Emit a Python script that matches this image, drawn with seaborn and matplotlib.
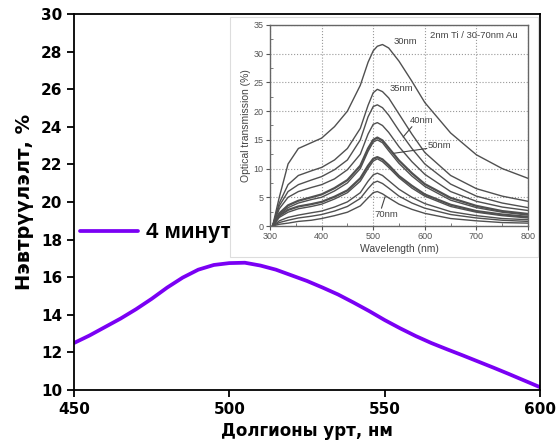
import matplotlib
matplotlib.use("Agg")
import matplotlib.pyplot as plt
import seaborn as sns
import pandas as pd
from matplotlib.patches import Rectangle

# ---- main chart data ----
wavelength = [450, 455, 460, 465, 470, 475, 480, 485, 490, 495, 500, 505, 510, 515, 520, 525,
              530, 535, 540, 545, 550, 555, 560, 565, 570, 575, 580, 585, 590, 595, 600]
transmission = [12.5, 12.9, 13.35, 13.8, 14.3, 14.85, 15.45, 15.98, 16.4, 16.65, 16.75, 16.77,
                16.62, 16.4, 16.1, 15.8, 15.45, 15.08, 14.65, 14.2, 13.72, 13.28, 12.87, 12.5,
                12.17, 11.85, 11.52, 11.19, 10.85, 10.5, 10.15]
series_label = "4 минут"
x_ticks = [450, 500, 550, 600]
y_ticks = [10, 12, 14, 16, 18, 20, 22, 24, 26, 28, 30]

# ---- inset chart data (reference figure) ----
inset_wl = [305, 318, 335, 355, 380, 400, 425, 450, 475, 490, 500, 508, 518, 530, 550, 575, 600, 650, 700, 750, 800]
c30 = [0, 5.0, 10.8, 13.5, 14.5, 15.3, 17.3, 20.0, 24.5, 28.5, 30.5, 31.3, 31.6, 31.0, 28.7, 25.2, 21.5, 16.2, 12.4, 10.0, 8.3]
c35 = [0, 4.0, 7.2, 8.8, 9.6, 10.2, 11.5, 13.5, 17.0, 21.0, 23.2, 23.8, 23.4, 22.3, 19.5, 16.0, 12.8, 8.8, 6.5, 5.2, 4.3]
c40 = [0, 3.5, 6.0, 7.2, 8.0, 8.6, 9.8, 11.5, 15.0, 19.0, 20.8, 21.1, 20.6, 19.3, 16.6, 13.5, 10.8, 7.3, 5.2, 4.0, 3.2]
c45 = [0, 3.0, 5.0, 6.0, 6.7, 7.2, 8.2, 9.8, 12.5, 16.0, 17.7, 18.0, 17.5, 16.3, 13.8, 11.2, 9.0, 6.0, 4.3, 3.3, 2.7]
c50a = [0, 2.2, 3.6, 4.4, 5.0, 5.5, 6.6, 8.0, 10.5, 13.5, 15.0, 15.4, 14.9, 13.6, 11.4, 9.2, 7.3, 4.9, 3.5, 2.6, 2.1]
c50b = [0, 2.0, 3.2, 4.0, 4.6, 5.0, 6.1, 7.5, 10.0, 13.0, 14.6, 15.0, 14.5, 13.1, 10.9, 8.7, 6.9, 4.5, 3.2, 2.4, 1.9]
c55a = [0, 1.8, 2.8, 3.4, 3.8, 4.2, 5.1, 6.2, 8.3, 10.5, 11.7, 12.0, 11.6, 10.6, 8.7, 7.0, 5.5, 3.7, 2.6, 2.0, 1.6]
c55b = [0, 1.5, 2.4, 3.0, 3.4, 3.8, 4.7, 5.8, 7.8, 10.0, 11.3, 11.7, 11.2, 10.2, 8.4, 6.6, 5.2, 3.4, 2.4, 1.8, 1.4]
c60 = [0, 0.9, 1.5, 1.9, 2.3, 2.6, 3.3, 4.2, 5.8, 7.8, 8.9, 9.2, 8.8, 7.9, 6.4, 5.0, 3.9, 2.5, 1.8, 1.3, 1.1]
c65 = [0, 0.6, 1.0, 1.4, 1.7, 2.0, 2.6, 3.4, 4.8, 6.5, 7.5, 7.8, 7.4, 6.6, 5.2, 4.0, 3.1, 2.0, 1.4, 1.0, 0.8]
c70 = [0, 0.3, 0.5, 0.8, 1.0, 1.3, 1.8, 2.4, 3.5, 4.9, 5.8, 6.0, 5.6, 4.9, 3.8, 2.9, 2.2, 1.3, 0.9, 0.6, 0.5]
inset_curves = [c30, c35, c40, c45, c50a, c50b, c55a, c55b, c60, c65, c70]
inset_x_ticks = [300, 400, 500, 600, 700, 800]
inset_y_ticks = [0, 5, 10, 15, 20, 25, 30, 35]

sns.set_theme(style="ticks")
plt.rcParams['font.family'] = ['DejaVu Sans']
plt.rcParams['text.color'] = 'black'
plt.rcParams['axes.labelcolor'] = 'black'

fig = plt.figure(figsize=(5.58, 4.48), dpi=100)
ax = fig.add_axes([74/558, 58/448, 466/558, 376/448])

df = pd.DataFrame({"wl": wavelength, "t": transmission, "s": series_label})
sns.lineplot(data=df, x="wl", y="t", hue="s", palette=["#7A00F4"], linewidth=2.7, ax=ax)

ax.set_xlim(450, 600)
ax.set_ylim(10, 30)
ax.set_xticks(x_ticks)
ax.set_yticks(y_ticks)
for s in ax.spines.values():
    s.set_linewidth(1.3)
    s.set_color("black")
ax.tick_params(axis="both", direction="out", length=5, width=1.3, labelsize=11, colors="black")
for lab in ax.get_xticklabels() + ax.get_yticklabels():
    lab.set_fontweight("bold")
ax.set_xlabel("Долгионы урт, нм", fontsize=12, fontweight="bold", labelpad=4, color="black")
ax.set_ylabel("Нэвтрүүлэлт, %", fontsize=14, fontweight="bold", labelpad=5, color="black")

leg = ax.legend(loc="center left", bbox_to_anchor=(0.013, 0.4176), frameon=False,
                borderpad=0, borderaxespad=0, handlelength=2.6, handletextpad=0.36,
                prop={"family": "Liberation Sans", "size": 16, "weight": "bold"})
for t in leg.get_texts():
    t.set_color("black")

# image-like background box for the inset
fig.patches.append(Rectangle((230/558, (448-257)/448), 308/558, 240/448,
                             transform=fig.transFigure, facecolor="white",
                             edgecolor="#dddddd", linewidth=0.8, zorder=1))

axin = fig.add_axes([270/558, (448-226)/448, 258/558, 201/448], zorder=2)
for i, c in enumerate(inset_curves):
    lw = 1.6 if i in (4, 6) else 1.0
    sns.lineplot(x=inset_wl, y=c, ax=axin, color="#505050", linewidth=lw)
axin.set_xlim(300, 800)
axin.set_ylim(0, 35)
axin.set_xticks(inset_x_ticks)
axin.set_yticks(inset_y_ticks)
axin.set_xticks([350, 450, 550, 650, 750], minor=True)
axin.set_yticks([2.5, 7.5, 12.5, 17.5, 22.5, 27.5, 32.5], minor=True)
axin.grid(True, which="major", linestyle=":", color="#999999", linewidth=0.8)
for s in axin.spines.values():
    s.set_color("#666666")
    s.set_linewidth(1.0)
axin.tick_params(axis="both", which="major", direction="out", length=3, width=0.8,
                 labelsize=6.5, colors="#555555", pad=1.5)
axin.tick_params(axis="both", which="minor", direction="in", length=2, width=0.6, colors="#666666")
for lab in axin.get_xticklabels() + axin.get_yticklabels():
    lab.set_family("Liberation Sans")
axin.set_xlabel("Wavelength (nm)", fontsize=7.5, color="#444444", family="Liberation Sans", labelpad=2)
axin.set_ylabel("Optical transmission (%)", fontsize=7.5, color="#444444", family="Liberation Sans", labelpad=2)

tkw = dict(fontsize=6.8, color="#444444", family="Liberation Sans", va="center")
axin.text(610, 33.1, "2nm Ti / 30-70nm Au", **tkw)
axin.text(539, 32.1, "30nm", **tkw)
axin.text(531, 23.9, "35nm", **tkw)
axin.text(571, 18.3, "40nm", **tkw)
axin.text(605, 14.0, "50nm", **tkw)
axin.text(502, 2.0, "70nm", **tkw)
axin.plot([558, 575], [15.5, 17.3], color="#444444", linewidth=0.8)
axin.plot([539, 604], [12.65, 13.5], color="#444444", linewidth=0.8)
axin.plot([516, 523], [3.1, 5.1], color="#444444", linewidth=0.8)

fig.savefig("out.png", dpi=100)
